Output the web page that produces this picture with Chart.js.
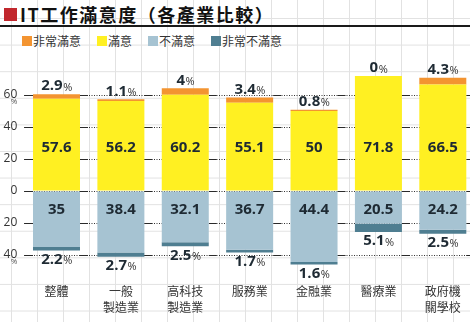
<!DOCTYPE html>
<html>
<head>
<meta charset="utf-8">
<script src="https://cdn.jsdelivr.net/npm/chart.js@4.4.0/dist/chart.umd.min.js"></script>
<style>
  html, body { margin: 0; padding: 0; width: 470px; height: 322px; overflow: hidden; }
  body {
    position: relative;
    background-color: #fff;
    background-image:
      linear-gradient(to right, #e2e2e2 1px, transparent 1px),
      linear-gradient(to bottom, #e2e2e2 1px, transparent 1px);
    background-size: 26px 26.6px;
    background-position: 11px 18px;
  }
  #title {
    position: absolute; left: 4px; top: 1px;
    display: flex; align-items: center;
    font: bold 18px "Noto Sans CJK TC", sans-serif;
    letter-spacing: 1.5px; color: #111; white-space: nowrap;
  }
  #title .mark { width: 13px; height: 13px; background: #c1272d; margin-right: 3px; }
  #rule { position: absolute; left: 0; top: 25px; width: 470px; height: 2px; background: #1a1a1a; }
  #legend {
    position: absolute; left: 22px; top: 32px;
    display: flex; gap: 16px;
    font: 12px "Noto Sans CJK TC", sans-serif; color: #333;
  }
  #legend .item { display: flex; align-items: center; }
  #legend .sw { width: 10px; height: 10px; margin-right: 1px; }
  #wrap { position: absolute; left: 0; top: 0; width: 475px; height: 322px; }
</style>
</head>
<body>
<div id="title"><span class="mark"></span>IT工作滿意度（各產業比較）</div>
<div id="rule"></div>
<div id="legend"></div>
<div id="wrap"><canvas id="chart" width="475" height="322"></canvas></div>
<script>
// Industries along the x axis
const categories = ['整體', ['一般', '製造業'], ['高科技', '製造業'], '服務業', '金融業', '醫療業', ['政府機', '關學校']];

// Share of respondents (%)
const verySatisfied    = [2.9, 1.1, 4, 3.4, 0.8, 0, 4.3];
const satisfied        = [57.6, 56.2, 60.2, 55.1, 50, 71.8, 66.5];
const dissatisfied     = [35, 38.4, 32.1, 36.7, 44.4, 20.5, 24.2];
const veryDissatisfied = [2.2, 2.7, 2.5, 1.7, 1.6, 5.1, 2.5];

// Value-axis ticks (negative side holds the dissatisfied shares)
const yTicks = [-40, -20, 0, 20, 40, 60];

const legendNames = ['非常滿意', '滿意', '不滿意', '非常不滿意'];
const COLORS = {
  veryPos: '#f39431',
  pos: '#fff022',
  neg: '#a6c3d2',
  veryNeg: '#4f7e91'
};
const legendColors = [COLORS.veryPos, COLORS.pos, COLORS.neg, COLORS.veryNeg];

// HTML legend
const legendEl = document.getElementById('legend');
legendNames.forEach((name, i) => {
  const item = document.createElement('div');
  item.className = 'item';
  const sw = document.createElement('span');
  sw.className = 'sw';
  sw.style.background = legendColors[i];
  item.appendChild(sw);
  item.appendChild(document.createTextNode(name));
  legendEl.appendChild(item);
});

const LABEL_COLOR = '#1e2a33';
const NUM_FONT = 'bold 15px "Open Sans", sans-serif';
const PCT_FONT = '11px "Open Sans", sans-serif';
// fixed rows for the in-bar values (in axis units)
const POS_LABEL_ROW = 27;
const NEG_LABEL_ROW = -11.5;

function drawPercent(ctx, value, x, y) {
  const num = String(value);
  ctx.font = NUM_FONT;
  const wNum = ctx.measureText(num).width;
  ctx.font = PCT_FONT;
  const wPct = ctx.measureText('%').width;
  const left = x - (wNum + wPct) / 2;
  ctx.textAlign = 'left';
  ctx.textBaseline = 'middle';
  ctx.font = NUM_FONT;
  ctx.fillStyle = LABEL_COLOR;
  ctx.fillText(num, left, y);
  ctx.font = PCT_FONT;
  ctx.fillStyle = '#333';
  ctx.fillText('%', left + wNum + 0.5, y + 1.5);
}

// short solid strokes beside each bar on every tick line
const edgeStrokes = {
  id: 'edgeStrokes',
  beforeDatasetsDraw(chart) {
    const { ctx, scales: { y } } = chart;
    const bars = chart.getDatasetMeta(0).data;
    ctx.save();
    ctx.strokeStyle = '#2a2a2a';
    ctx.lineWidth = 1;
    ctx.beginPath();
    yTicks.forEach(v => {
      const py = Math.round(y.getPixelForValue(v)) + 0.5;
      bars.forEach((bar, i) => {
        const { x, width } = bar.getProps(['x', 'width'], true);
        const l = x - width / 2, r = x + width / 2;
        ctx.moveTo(r, py); ctx.lineTo(r + 8, py);
        if (i === 0) { ctx.moveTo(l - 8, py); ctx.lineTo(l, py); }
      });
    });
    ctx.stroke();
    ctx.restore();
  }
};

// value labels and the small % marks next to the axis
const valueLabels = {
  id: 'valueLabels',
  afterDatasetsDraw(chart) {
    const { ctx, scales: { y } } = chart;
    const posBars = chart.getDatasetMeta(0).data;
    const topBars = chart.getDatasetMeta(1).data;
    const negBars = chart.getDatasetMeta(2).data;
    const bottomBars = chart.getDatasetMeta(3).data;
    ctx.save();
    ctx.textAlign = 'center';
    ctx.textBaseline = 'middle';
    ctx.font = NUM_FONT;
    ctx.fillStyle = LABEL_COLOR;
    posBars.forEach((bar, i) => {
      ctx.fillText(String(satisfied[i]), bar.x, y.getPixelForValue(POS_LABEL_ROW));
    });
    negBars.forEach((bar, i) => {
      ctx.fillText(String(dissatisfied[i]), bar.x, y.getPixelForValue(NEG_LABEL_ROW));
    });
    topBars.forEach((bar, i) => {
      drawPercent(ctx, verySatisfied[i], bar.x, bar.y - 8);
    });
    bottomBars.forEach((bar, i) => {
      drawPercent(ctx, veryDissatisfied[i], bar.x, bar.y + 9);
    });
    // unit marks under the outermost tick labels
    ctx.font = '8px "Open Sans", sans-serif';
    ctx.fillStyle = '#555';
    ctx.textAlign = 'center';
    [yTicks[yTicks.length - 1], yTicks[0]].forEach(v => {
      ctx.fillText('%', 14, y.getPixelForValue(v) + 7);
    });
    ctx.restore();
  }
};

new Chart(document.getElementById('chart'), {
  type: 'bar',
  data: {
    labels: categories,
    datasets: [
      { label: legendNames[1], data: satisfied, backgroundColor: COLORS.pos },
      { label: legendNames[0], data: verySatisfied, backgroundColor: COLORS.veryPos },
      { label: legendNames[2], data: dissatisfied.map(v => -v), backgroundColor: COLORS.neg },
      { label: legendNames[3], data: veryDissatisfied.map(v => -v), backgroundColor: COLORS.veryNeg }
    ]
  },
  options: {
    responsive: false,
    animation: false,
    layout: { padding: { top: 55, left: 0, right: 0, bottom: 0 } },
    datasets: { bar: { barPercentage: 0.73, categoryPercentage: 1, borderWidth: 0 } },
    plugins: { legend: { display: false }, tooltip: { enabled: false } },
    scales: {
      x: {
        stacked: true,
        grid: { display: false, drawTicks: false },
        border: { display: false },
        ticks: {
          color: '#333',
          font: { family: '"Noto Sans CJK TC", sans-serif', size: 12, lineHeight: 1.35 },
          padding: 12,
          maxRotation: 0,
          autoSkip: false
        },
        afterFit(s) { s.height = 51; }
      },
      y: {
        stacked: true,
        min: -50,
        max: 85,
        afterBuildTicks(s) { s.ticks = yTicks.map(v => ({ value: v })); },
        grid: { color: '#333', lineWidth: 1, drawTicks: false },
        border: { display: false, dash: [1, 1.5] },
        ticks: {
          color: '#333',
          font: { family: '"Open Sans", sans-serif', size: 12 },
          padding: 7,
          callback: v => String(Math.abs(v))
        },
        afterFit(s) { s.width = 24.3; }
      }
    }
  },
  plugins: [edgeStrokes, valueLabels]
});
</script>
</body>
</html>
